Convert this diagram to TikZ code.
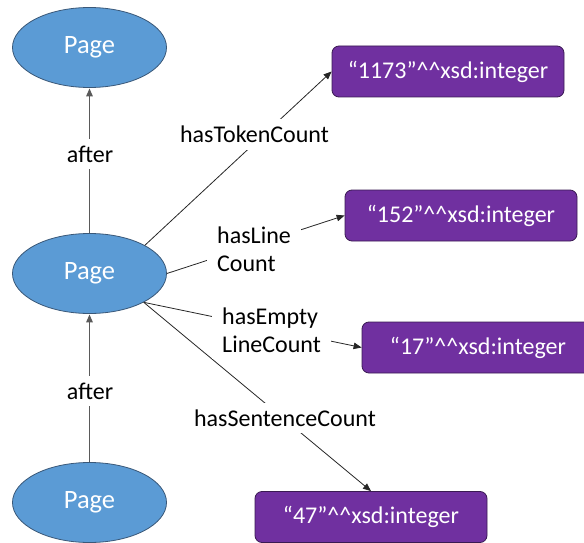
\documentclass[tikz,border=0pt]{standalone}
\usepackage{fontspec}
\setmainfont{Carlito}
\usetikzlibrary{arrows.meta,shapes.geometric}
\definecolor{pageblue}{HTML}{5B9BD5}
\definecolor{pageedge}{HTML}{3A5878}
\definecolor{litpurple}{HTML}{7030A0}
\definecolor{litedge}{HTML}{3A1A52}
\definecolor{afterline}{HTML}{5A5A5A}
\newcommand{\dcaret}{\textasciicircum\textasciicircum}
\begin{document}
\begin{tikzpicture}[x=1pt,y=-1pt,
  txt/.style={font=\fontsize{24}{28}\selectfont},
  pagenode/.style={ellipse, draw=pageedge, line width=0.8pt, fill=pageblue,
    minimum width=154pt, minimum height=80pt, inner sep=0pt, text=white,
    font=\fontsize{26.5}{30}\selectfont},
  literal/.style={rectangle, rounded corners=7pt, draw=litedge, line width=0.8pt,
    fill=litpurple, minimum width=232pt, minimum height=51pt, inner sep=0pt,
    text=white, txt},
  edgelabel/.style={fill=white, inner xsep=10pt, inner ysep=7pt, align=left, txt},
  link/.style={draw=black!85, line width=0.8pt, -{Triangle[length=8pt,width=6.5pt]}},
  afterlink/.style={draw=afterline, line width=1.3pt, -{Triangle[length=8pt,width=6.5pt]}, shorten >=0.5pt}
]
\useasboundingbox (0,0) rectangle (584,543);

% resources
\node[pagenode] (p1) at (89.5,47.5) {Page};
\node[pagenode] (p2) at (89.5,273.5) {Page};
\node[pagenode] (p3) at (89.5,502.5) {Page};

% literal values
\node[literal] (v1) at (448,71.5)  {“1173”\dcaret xsd:integer};
\node[literal] (v2) at (461,215.5) {“152”\dcaret xsd:integer};
\node[literal] (v3) at (478,347.5) {“17”\dcaret xsd:integer};
\node[literal] (v4) at (371,517)   {“47”\dcaret xsd:integer};

% properties
\draw[afterlink] (p2.north) -- (p1.south);
\draw[afterlink] (p3.north) -- (p2.south);
\draw[link] (p2.27) -- (v1.west);
\draw[link] (p2.east) -- (v2.west);
\draw[link] (p2.332) -- (v3.west);
\draw[link] (p2.332) -- (v4.north);

% property names
\node[edgelabel] (la) at (90,154) {after};
\node[edgelabel] (lb) at (90,391) {after};
\node[edgelabel] (lt) at (254.5,134.5) {hasTokenCount};
\node[edgelabel, anchor=west] (ll) at (207,249) {hasLine\\Count};
\node[edgelabel, anchor=west] (le) at (212,330) {hasEmpty\\LineCount};
\node[edgelabel] (ls) at (285,418) {hasSentenceCount};
\end{tikzpicture}
\end{document}
